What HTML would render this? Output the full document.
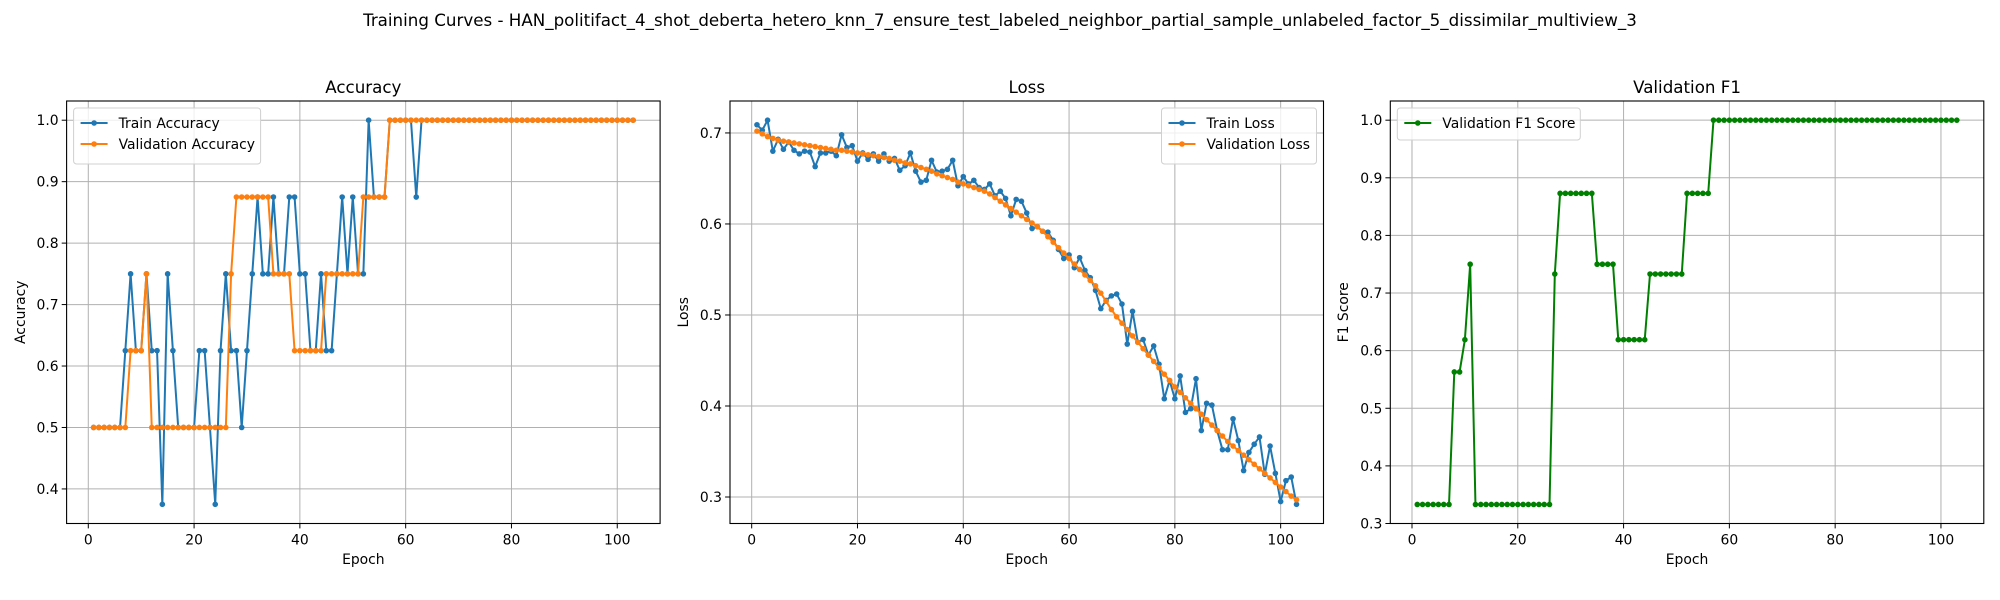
<!DOCTYPE html>
<html><head><meta charset="utf-8"><style>
html,body{margin:0;padding:0;background:#fff;}
svg{display:block;font-family:"DejaVu Sans","Liberation Sans",sans-serif;}
</style></head><body>
<svg id="fig" width="2000" height="600" viewBox="0 0 2000 600" xmlns="http://www.w3.org/2000/svg">
<text x="1000" y="26" text-anchor="middle" font-size="16.7" fill="#000">Training Curves - HAN_politifact_4_shot_deberta_hetero_knn_7_ensure_test_labeled_neighbor_partial_sample_unlabeled_factor_5_dissimilar_multiview_3</text>
</svg>
<script>
const epochs = Array.from({length:103},(_,i)=>i+1);
const trainAcc = [0.5,0.5,0.5,0.5,0.5,0.5,0.625,0.75,0.625,0.625,0.75,0.625,0.625,0.375,0.75,0.625,0.5,0.5,0.5,0.5,
0.625,0.625,0.5,0.375,0.625,0.75,0.625,0.625,0.5,0.625,0.75,0.875,0.75,0.75,0.875,0.75,0.75,0.875,0.875,0.75,
0.75,0.625,0.625,0.75,0.625,0.625,0.75,0.875,0.75,0.875,0.75,0.75,1,0.875,0.875,0.875,1,1,1,1,
1,0.875,1,1,1,1,1,1,1,1,1,1,1,1,1,1,1,1,1,1,1,1,1,1,1,1,1,1,1,1,1,1,1,1,1,1,1,1,1,1,1,1,1];
const valAcc = [0.5,0.5,0.5,0.5,0.5,0.5,0.5,0.625,0.625,0.625,0.75,0.5,0.5,0.5,0.5,0.5,0.5,0.5,0.5,0.5,
0.5,0.5,0.5,0.5,0.5,0.5,0.75,0.875,0.875,0.875,0.875,0.875,0.875,0.875,0.75,0.75,0.75,0.75,0.625,0.625,
0.625,0.625,0.625,0.625,0.75,0.75,0.75,0.75,0.75,0.75,0.75,0.875,0.875,0.875,0.875,0.875,1,1,1,1,
1,1,1,1,1,1,1,1,1,1,1,1,1,1,1,1,1,1,1,1,1,1,1,1,1,1,1,1,1,1,1,1,1,1,1,1,1,1,1,1,1,1,1];
const trainLoss = [0.709,0.703,0.714,0.680,0.693,0.682,0.690,0.681,0.677,0.680,0.679,0.663,0.678,0.678,0.680,0.675,0.698,0.684,0.686,0.669,
0.678,0.671,0.677,0.669,0.677,0.669,0.672,0.659,0.664,0.678,0.658,0.646,0.648,0.670,0.657,0.658,0.660,0.670,0.642,0.652,
0.644,0.648,0.640,0.638,0.644,0.631,0.636,0.628,0.609,0.627,0.625,0.612,0.595,0.597,0.592,0.591,0.582,0.572,0.562,0.566,
0.552,0.563,0.549,0.541,0.527,0.507,0.516,0.521,0.523,0.512,0.468,0.504,0.470,0.473,0.456,0.466,0.446,0.408,0.428,0.408,
0.433,0.393,0.397,0.430,0.373,0.403,0.401,0.373,0.352,0.352,0.386,0.362,0.329,0.349,0.358,0.366,0.325,0.356,0.326,0.295,
0.318,0.322,0.292];
const valLoss = [0.702,0.699,0.696,0.694,0.692,0.691,0.690,0.689,0.688,0.687,0.686,0.685,0.684,0.683,0.682,0.681,0.681,0.680,0.679,0.678,
0.677,0.676,0.675,0.674,0.673,0.672,0.670,0.669,0.667,0.666,0.664,0.662,0.660,0.658,0.655,0.653,0.651,0.649,0.646,0.644,
0.642,0.640,0.638,0.636,0.633,0.629,0.625,0.621,0.617,0.613,0.609,0.605,0.601,0.597,0.592,0.586,0.580,0.574,0.568,0.562,
0.556,0.550,0.544,0.538,0.532,0.524,0.515,0.506,0.498,0.491,0.484,0.477,0.470,0.463,0.456,0.449,0.442,0.435,0.428,0.421,
0.415,0.409,0.403,0.397,0.391,0.385,0.379,0.373,0.367,0.361,0.356,0.351,0.346,0.341,0.336,0.331,0.326,0.321,0.316,0.311,
0.306,0.301,0.297];
const valF1 = [0.333,0.333,0.333,0.333,0.333,0.333,0.333,0.563,0.563,0.619,0.75,0.333,0.333,0.333,0.333,0.333,0.333,0.333,0.333,0.333,
0.333,0.333,0.333,0.333,0.333,0.333,0.733,0.873,0.873,0.873,0.873,0.873,0.873,0.873,0.75,0.75,0.75,0.75,0.619,0.619,
0.619,0.619,0.619,0.619,0.733,0.733,0.733,0.733,0.733,0.733,0.733,0.873,0.873,0.873,0.873,0.873,1,1,1,1,
1,1,1,1,1,1,1,1,1,1,1,1,1,1,1,1,1,1,1,1,1,1,1,1,1,1,1,1,1,1,1,1,1,1,1,1,1,1,1,1,1,1,1];
const xTicks = [0,20,40,60,80,100];
const accTicks = [0.4,0.5,0.6,0.7,0.8,0.9,1.0];
const lossTicks = [0.3,0.4,0.5,0.6,0.7];
const f1Ticks = [0.3,0.4,0.5,0.6,0.7,0.8,0.9,1.0];

const NS="http://www.w3.org/2000/svg";
const fig=document.getElementById('fig');
function mk(tag,attrs,parent){const e=document.createElementNS(NS,tag);for(const k in attrs)e.setAttribute(k,attrs[k]);(parent||fig).appendChild(e);return e;}

function makeAxes(cfg){
  const g=mk('g',{});
  
  
  const L=cfg.left,R=cfg.left+593.5,T=101,B=523.5;
  const sx=v=>L+(v-cfg.x0)/(cfg.x1-cfg.x0)*(R-L);
  const sy=v=>B-(v-cfg.y0)/(cfg.y1-cfg.y0)*(B-T);
  xTicks.forEach(t=>{
    const l=mk('line',{x1:sx(t),x2:sx(t),y1:T,y2:B,stroke:'#b0b0b0','stroke-width':1},g);
    
    
    mk('line',{x1:sx(t),x2:sx(t),y1:B,y2:B+4.9,stroke:'#000','stroke-width':1},g);
    const tx=mk('text',{x:sx(t),y:B+21,'text-anchor':'middle','font-size':13.9},g);
    tx.textContent=String(t);
    
    
  });
  cfg.yTicks.forEach(t=>{
    const l=mk('line',{x1:L,x2:R,y1:sy(t),y2:sy(t),stroke:'#b0b0b0','stroke-width':1},g);
    
    
    mk('line',{x1:L-4.9,x2:L,y1:sy(t),y2:sy(t),stroke:'#000','stroke-width':1},g);
    const tx=mk('text',{x:L-8,y:sy(t)+5,'text-anchor':'end','font-size':13.9},g);
    tx.textContent=t.toFixed(1);
    
    
  });
  cfg.series.forEach(s=>{
    const pts=epochs.map((e,i)=>sx(e).toFixed(2)+','+sy(s.data[i]).toFixed(2)).join(' ');
    const pl=mk('polyline',{points:pts,fill:'none',stroke:s.color,'stroke-width':2,'stroke-linejoin':'round'},g);
    
    
    epochs.forEach((e,i)=>{
      const c=mk('circle',{cx:sx(e),cy:sy(s.data[i]),r:2.8,fill:s.color},g);
      
      
    });
  });
  const fr=mk('rect',{x:L,y:T,width:R-L,height:B-T,fill:'none',stroke:'#000','stroke-width':1.1},g);
  
  
  const ti=mk('text',{x:(L+R)/2,y:T-8,'text-anchor':'middle','font-size':16.7},g);
  ti.textContent=cfg.title;
  
  
  const xl=mk('text',{x:(L+R)/2,y:564,'text-anchor':'middle','font-size':13.9},g);
  xl.textContent='Epoch';
  
  
  const yx=cfg.ylabX, yy=(T+B)/2;
  const yl=mk('text',{x:yx,y:yy,'text-anchor':'middle','font-size':13.9,transform:`rotate(-90 ${yx} ${yy})`},g);
  yl.textContent=cfg.ylabel;
  
  
  const lg=mk('g',{},g);
  
  
  const lw=cfg.legW, lh=8+cfg.series.length*24;
  const lx=cfg.legRight?R-7-lw:L+7, ly=T+7;
  mk('rect',{x:lx,y:ly,width:lw,height:lh,rx:3,fill:'#fff','fill-opacity':0.8,stroke:'#d0d0d0','stroke-width':1},lg);
  cfg.series.forEach((s,i)=>{
    const cy=ly+15+i*21;
    const ent=mk('g',{},lg);
    
    
    mk('line',{x1:lx+7,x2:lx+34,y1:cy,y2:cy,stroke:s.color,'stroke-width':2},ent);
    mk('circle',{cx:lx+20.5,cy:cy,r:2.8,fill:s.color},ent);
    const t=mk('text',{x:lx+45,y:cy+5,'font-size':13.9},ent);
    t.textContent=s.label;
  });
}
makeAxes({name:'accuracy-chart',left:66.6,x0:-4.1,x1:108.1,y0:0.34375,y1:1.03125,yTicks:accTicks,title:'Accuracy',ylabel:'Accuracy',ylabX:25,legW:187,legRight:false,
  series:[{id:'train-accuracy',data:trainAcc,color:'#1f77b4',label:'Train Accuracy'},{id:'validation-accuracy',data:valAcc,color:'#ff7f0e',label:'Validation Accuracy'}]});
makeAxes({name:'loss-chart',left:730,x0:-4.1,x1:108.1,y0:0.2709,y1:0.7351,yTicks:lossTicks,title:'Loss',ylabel:'Loss',ylabX:688,legW:155,legRight:true,
  series:[{id:'train-loss',data:trainLoss,color:'#1f77b4',label:'Train Loss'},{id:'validation-loss',data:valLoss,color:'#ff7f0e',label:'Validation Loss'}]});
makeAxes({name:'f1-chart',left:1390.3,x0:-4.1,x1:108.1,y0:0.3,y1:1.0333,yTicks:f1Ticks,title:'Validation F1',ylabel:'F1 Score',ylabX:1348,legW:183,legRight:false,
  series:[{id:'validation-f1',data:valF1,color:'#008000',label:'Validation F1 Score'}]});
</script>
</body></html>
